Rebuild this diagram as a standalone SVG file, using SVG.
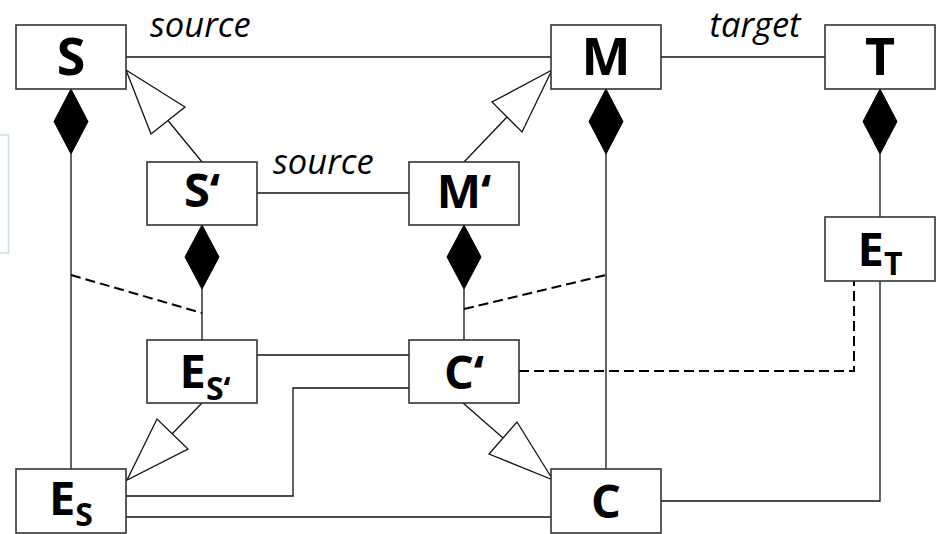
<svg xmlns="http://www.w3.org/2000/svg" width="936" height="534" viewBox="0 0 936 534">
<style>
.box{fill:#fff;stroke:#333;stroke-width:1.6}
.ln{fill:none;stroke:#111;stroke-width:1.3}
.dash{fill:none;stroke:#000;stroke-width:2;stroke-dasharray:10 5}
.dia{fill:#000;stroke:#000;stroke-width:1}
.tri{fill:#fff;stroke:#111;stroke-width:1.3}
.lbl{font-family:"Open Sans","Liberation Sans",Arial,sans-serif;font-weight:bold;font-size:47px;text-anchor:middle;fill:#000}
.big{font-size:52px}
.sub{font-size:32px}
.role{font-family:"Open Sans","Liberation Sans",Arial,sans-serif;font-style:italic;font-size:34.5px;fill:#000}
</style>
<rect width="936" height="534" fill="#fff"/>
<rect x="-40" y="135" width="48.5" height="118" fill="none" stroke="#cfe3d2" stroke-width="1.6"/>
<g id="connectors">
  <line class="ln" x1="126" y1="57" x2="551" y2="57"/>
  <line class="ln" x1="661" y1="57" x2="825" y2="57"/>
  <line class="ln" x1="257" y1="193" x2="409" y2="193"/>
  <line class="ln" x1="71" y1="154" x2="71" y2="469"/>
  <line class="ln" x1="606" y1="154" x2="606" y2="469"/>
  <line class="ln" x1="880" y1="154" x2="880" y2="217"/>
  <line class="ln" x1="202" y1="289" x2="202" y2="340"/>
  <line class="ln" x1="464" y1="289" x2="464" y2="340"/>
  <polygon class="dia" points="71,89 88,121.5 71,154 54,121.5"/>
  <polygon class="dia" points="606,89 623,121.5 606,154 589,121.5"/>
  <polygon class="dia" points="880,89 897,121.5 880,154 863,121.5"/>
  <polygon class="dia" points="202,225 219,257 202,289 185,257"/>
  <polygon class="dia" points="464,225 481,257 464,289 447,257"/>
  <line class="ln" x1="202" y1="162" x2="168" y2="120.5"/>
  <polygon class="tri" points="126,70 185,107 151,134"/>
  <line class="ln" x1="464" y1="162" x2="507" y2="117"/>
  <polygon class="tri" points="552,70 492,102 522,132"/>
  <line class="ln" x1="202" y1="403" x2="172" y2="434"/>
  <polygon class="tri" points="127,480 157,419 188,449"/>
  <line class="ln" x1="463" y1="403" x2="503" y2="438"/>
  <polygon class="tri" points="553,480 517,422 489,454"/>
  <line class="ln" x1="257" y1="355" x2="409" y2="355"/>
  <polyline class="ln" points="409,388 293,388 293,496 126,496"/>
  <line class="ln" x1="126" y1="517" x2="551" y2="517"/>
  <polyline class="ln" points="661,501 880,501 880,281"/>
  <polyline class="dash" points="519,371 854,371 854,281"/>
  <line class="dash" x1="71" y1="275" x2="202" y2="313"/>
  <line class="dash" x1="464" y1="309" x2="606" y2="275"/>
  <text class="role" x="150" y="37">source</text>
  <text class="role" x="273" y="174">source</text>
  <text class="role" x="755" y="37" text-anchor="middle">target</text>
</g>
<g id="S"><rect class="box" x="16" y="25" width="110" height="64"/><text class="lbl big" x="71" y="75">S</text></g>
<g id="M"><rect class="box" x="551" y="25" width="110" height="64"/><text class="lbl big" x="606" y="75">M</text></g>
<g id="T"><rect class="box" x="825" y="25" width="110" height="64"/><text class="lbl big" x="880" y="75">T</text></g>
<g id="Sp"><rect class="box" x="147" y="162" width="110" height="63"/><text class="lbl" x="202" y="207">S‘</text></g>
<g id="Mp"><rect class="box" x="409" y="162" width="110" height="63"/><text class="lbl" x="464" y="208">M‘</text></g>
<g id="ET"><rect class="box" x="825" y="217" width="110" height="64"/><text class="lbl" x="880" y="266">E<tspan class="sub" dy="9">T</tspan></text></g>
<g id="ESp"><rect class="box" x="147" y="340" width="110" height="63"/><text class="lbl" x="205" y="388">E<tspan class="sub" dy="12">S‘</tspan></text></g>
<g id="Cp"><rect class="box" x="409" y="340" width="110" height="63"/><text class="lbl" x="464" y="389">C‘</text></g>
<g id="ES"><rect class="box" x="16" y="469" width="110" height="64"/><text class="lbl" x="71" y="515">E<tspan class="sub" dy="11">S</tspan></text></g>
<g id="C"><rect class="box" x="551" y="469" width="110" height="64"/><text class="lbl" x="606" y="518">C</text></g>
</svg>
